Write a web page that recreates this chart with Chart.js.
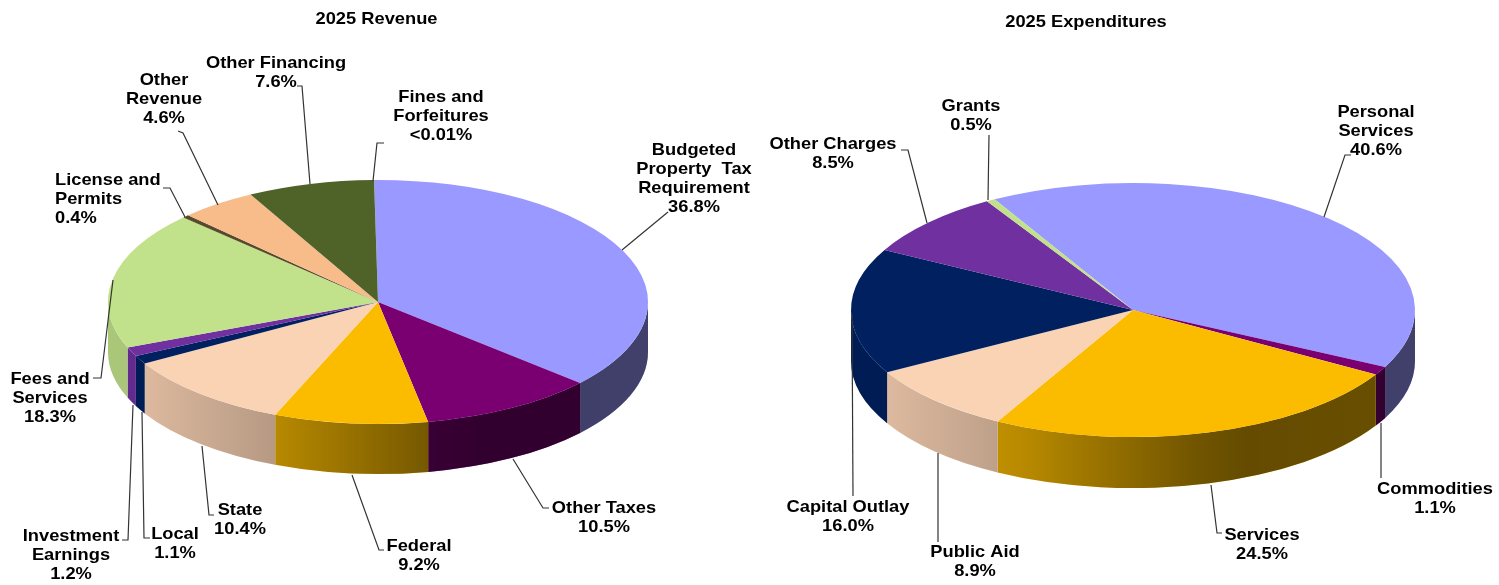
<!DOCTYPE html>
<html>
<head>
<meta charset="utf-8">
<title>2025 Revenue and Expenditures</title>
<style>
    html, body { margin: 0; padding: 0; background: #fff; overflow: hidden; }
    #page { position: relative; width: 1499px; height: 585px; }
    canvas { position: absolute; left: 0; top: 0; filter: blur(0.35px); }
</style>
<script src="https://cdn.jsdelivr.net/npm/chart.js@4"></script>
</head>
<body>
<div id="page">
    <canvas id="receita" width="1499" height="585"></canvas>
    <canvas id="despesa" width="1499" height="585"></canvas>
</div>
<script>
const revenueCategories = ['Budgeted\nProperty  Tax\nRequirement', 'Other Taxes', 'Federal', 'State', 'Local', 'Investment\nEarnings', 'Fees and\nServices', 'License and\nPermits', 'Other\nRevenue', 'Other Financing', 'Fines and\nForfeitures'];
const revenueValues = [36.8, 10.5, 9.2, 10.4, 1.1, 1.2, 18.3, 0.4, 4.6, 7.6, 0.01];
const revenueColors = ['#9999FF', '#7A0072', '#FBBC00', '#FAD2B4', '#002060', '#7030A0', '#C1E18A', '#5A4A2C', '#F7BC8A', '#4F6228', '#7F7F7F'];

const expenseCategories = ['Personal\nServices', 'Commodities', 'Services', 'Public Aid', 'Capital Outlay', 'Other Charges', 'Grants'];
const expenseValues = [40.6, 1.1, 24.5, 8.9, 16.0, 8.5, 0.5];
const expenseColors = ['#9999FF', '#7A0072', '#FBBC00', '#FAD2B4', '#002060', '#7030A0', '#C1E18A'];

// posicao dos rotulos: x central, y da primeira linha (centro), e linha de chamada
const revenueLabelLayout = [
    { x: 694, y: 149, line: [[622, 250], [668, 212]] },
    { x: 604, y: 507, line: [[513, 459], [543, 508], [549, 508]] },
    { x: 419, y: 545, line: [[352, 475], [379, 550], [384, 550]] },
    { x: 240, y: 509, line: [[202, 446], [209, 515], [214, 515]] },
    { x: 175, y: 533, line: [[142, 412], [144, 538], [150, 538]] },
    { x: 71, y: 535, line: [[133, 405], [128, 540], [122, 540]] },
    { x: 50, y: 378, line: [[113, 280], [101, 378], [93, 378]] },
    { x: 55, y: 179, align: 'left', line: [[185, 217], [170, 188], [163, 188]] },
    { x: 164, y: 79, line: [[218, 205], [183, 133], [178, 131]] },
    { x: 276, y: 62, line: [[310, 184], [302, 86], [297, 86]] },
    { x: 441, y: 96, line: [[373, 181], [377, 143], [384, 143]] }
];
const expenseLabelLayout = [
    { x: 1376, y: 111, line: [[1324, 217], [1345, 155], [1351, 155]] },
    { x: 1435, y: 488, line: [[1381, 423], [1381, 478]] },
    { x: 1262, y: 534, line: [[1211, 485], [1217, 533], [1222, 533]] },
    { x: 975, y: 551, line: [[938, 453], [938, 542]] },
    { x: 848, y: 506, line: [[852, 315], [853, 496]] },
    { x: 833, y: 143, line: [[927, 223], [908, 150], [901, 150]] },
    { x: 971, y: 105, line: [[988, 200], [989, 135]] }
];

// escurecimento da lateral ao longo da largura da pizza
const wallShade = [[0, 0.12], [0.07, 0.12], [0.31, 0.27], [0.61, 0.55], [0.7, 0.6], [1, 0.58]];

const fontLabel = 'bold 17px "Liberation Sans", Arial, sans-serif';
const stretch = 1.075;

function textoValor(valor) {
    if (valor < 0.1) {
        return '<' + valor.toFixed(2) + '%';
    }
    return valor.toFixed(1) + '%';
}

function escreve(ctx, texto, x, y, align) {
    ctx.save();
    ctx.translate(x, y + 1.5);
    ctx.scale(stretch, 1);
    ctx.textAlign = align;
    ctx.textBaseline = 'middle';
    ctx.fillText(texto, 0, 0);
    ctx.restore();
}

const pizza3d = {
    id: 'pizza3d',
    beforeDatasetsDraw(chart, args, opts) {
        const ctx = chart.ctx;
        const arcs = chart.getDatasetMeta(0).data;
        const rx = arcs[0].outerRadius;
        const shade = ctx.createLinearGradient(opts.cx - rx, 0, opts.cx + rx, 0);
        wallShade.forEach(function (s) {
            shade.addColorStop(s[0], 'rgba(0,0,0,' + s[1] + ')');
        });

        // lateral: so a parte da frente de cada fatia (angulo entre 0 e PI)
        arcs.forEach(function (arc, i) {
            const ini = Math.max(arc.startAngle, 0);
            const fim = Math.min(arc.endAngle, Math.PI);
            if (fim <= ini) {
                return;
            }
            ctx.beginPath();
            ctx.ellipse(opts.cx, opts.cy, rx, opts.ry, 0, ini, fim, false);
            ctx.ellipse(opts.cx, opts.cy + opts.depth, rx, opts.ry, 0, fim, ini, true);
            ctx.closePath();
            ctx.fillStyle = chart.data.datasets[0].backgroundColor[i];
            ctx.fill();
            ctx.fillStyle = shade;
            ctx.fill();
        });

        // achata o desenho das fatias em uma elipse
        ctx.save();
        ctx.translate(opts.cx, opts.cy);
        ctx.scale(1, opts.ry / rx);
        ctx.translate(-arcs[0].x, -arcs[0].y);
    },
    afterDatasetsDraw(chart) {
        chart.ctx.restore();
    },
    afterDraw(chart, args, opts) {
        const ctx = chart.ctx;
        const valores = chart.data.datasets[0].data;

        ctx.save();
        ctx.strokeStyle = '#333';
        ctx.lineWidth = 1.2;
        opts.layout.forEach(function (item) {
            ctx.beginPath();
            item.line.forEach(function (p, n) {
                if (n === 0) {
                    ctx.moveTo(p[0], p[1]);
                } else {
                    ctx.lineTo(p[0], p[1]);
                }
            });
            ctx.stroke();
        });

        ctx.fillStyle = '#000';
        ctx.font = fontLabel;
        chart.data.labels.forEach(function (nome, i) {
            const item = opts.layout[i];
            const linhas = nome.split('\n').concat(textoValor(valores[i]));
            linhas.forEach(function (linha, n) {
                escreve(ctx, linha, item.x, item.y + n * 19, item.align || 'center');
            });
        });

        escreve(ctx, opts.title, opts.titleX, opts.titleY, 'center');
        ctx.restore();
    }
};

function criaPizza(id, labels, valores, cores, rotacao, padding, geo) {
    return new Chart(document.getElementById(id), {
        type: 'pie',
        data: {
            labels: labels,
            datasets: [{
                data: valores,
                backgroundColor: cores,
                borderWidth: 0
            }]
        },
        options: {
            responsive: false,
            animation: false,
            rotation: rotacao,
            layout: { padding: padding },
            plugins: {
                legend: { display: false },
                tooltip: { enabled: false },
                pizza3d: geo
            }
        },
        plugins: [pizza3d]
    });
}

criaPizza('receita', revenueCategories, revenueValues, revenueColors, -0.8,
    { left: 108, right: 851, top: 22.5, bottom: 22.5 },
    { cx: 378, cy: 302, ry: 122, depth: 50, layout: revenueLabelLayout, title: '2025 Revenue', titleX: 376.5, titleY: 18 });

criaPizza('despesa', expenseCategories, expenseValues, expenseColors, -29.4,
    { left: 851, right: 84, top: 10.5, bottom: 10.5 },
    { cx: 1133, cy: 310, ry: 127, depth: 51, layout: expenseLabelLayout, title: '2025 Expenditures', titleX: 1086, titleY: 21 });
</script>
</body>
</html>
